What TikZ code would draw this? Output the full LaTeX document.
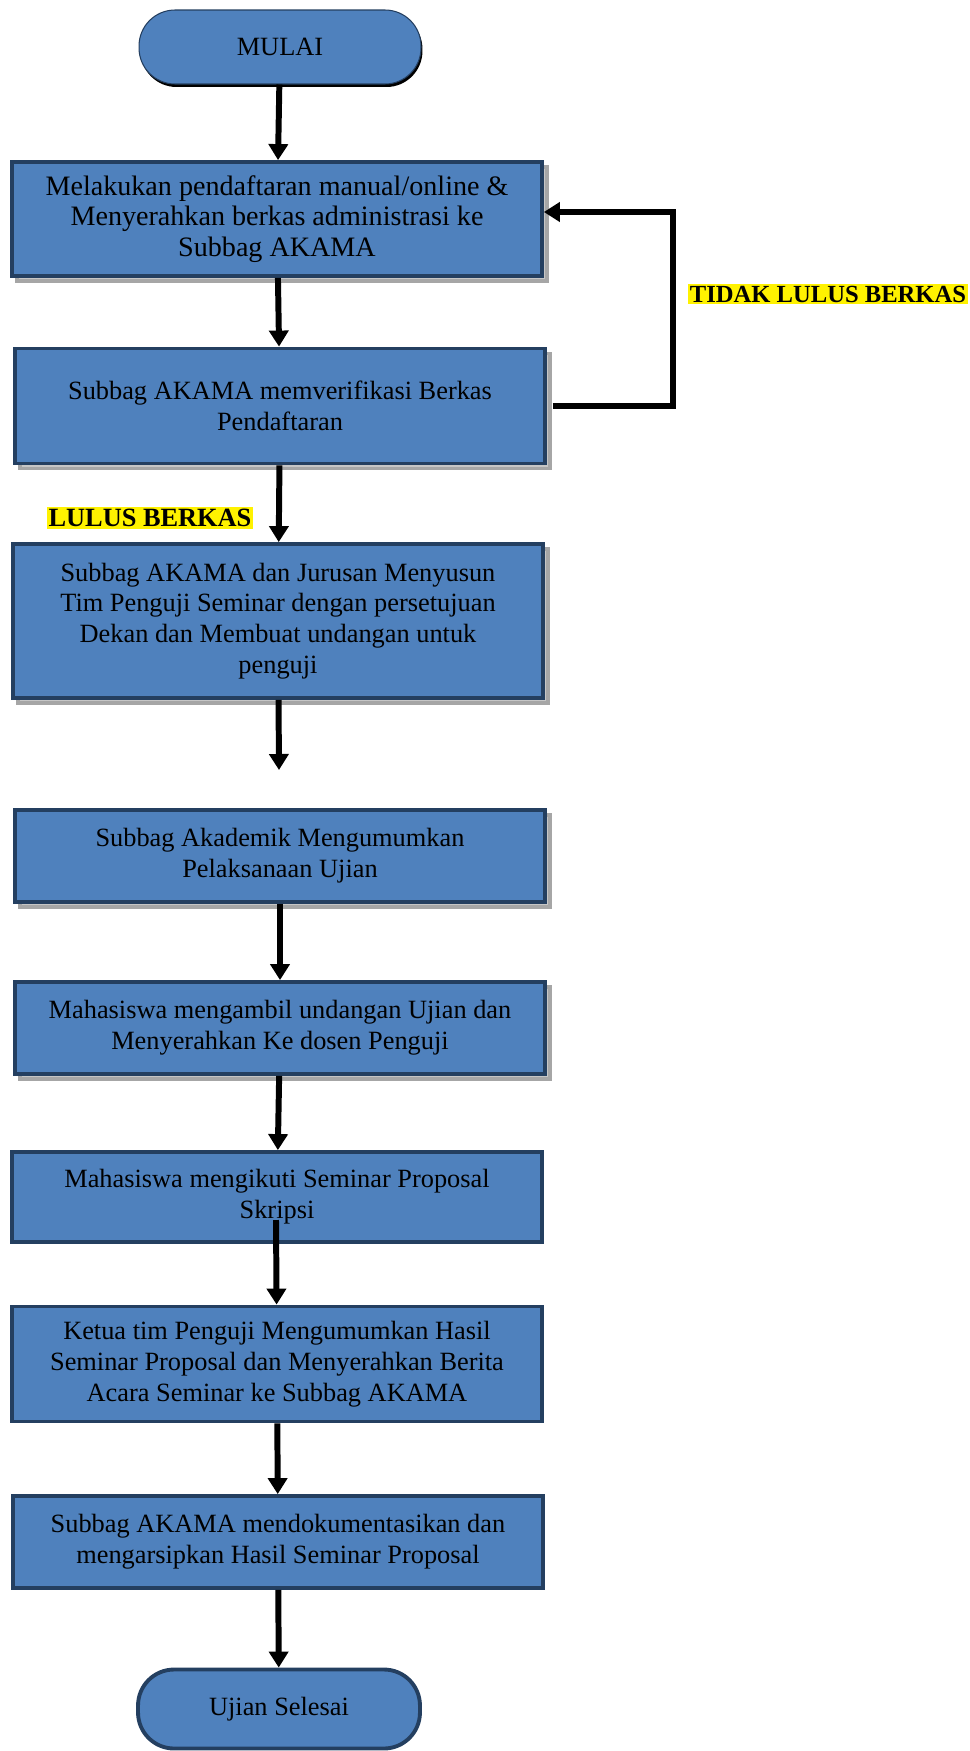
\documentclass[tikz,border=0pt]{standalone}
\usepackage{fontspec}
\setmainfont{Liberation Serif}
\usetikzlibrary{arrows.meta,shadows}

\definecolor{boxblue}{HTML}{4F81BD}
\definecolor{boxline}{HTML}{243F60}

\begin{document}
\begin{tikzpicture}[x=0.02cm,y=-0.02cm,
    stepbox/.style={rectangle,fill=boxblue,draw=boxline,line width=2.2pt,align=center,
        minimum width=10.6cm,inner sep=2pt,font=\fontsize{15}{17.5}\selectfont},
    grayshadow/.style={drop shadow={shadow xshift=0.1cm,shadow yshift=-0.1cm,
        fill=gray!45,draw=gray!70,opacity=1}},
    terminal/.style={rectangle,rounded corners=0.72cm,fill=boxblue,align=center,
        minimum width=5.64cm,minimum height=1.48cm,font=\fontsize{15}{17.5}\selectfont},
    flow/.style={line width=3.4pt,-{Triangle[length=0.32cm,width=0.38cm]}},
    hilite/.style={fill=yellow,inner sep=1pt,font=\bfseries\fontsize{15}{17}\selectfont}]
    \useasboundingbox (0,0) rectangle (970,1751);

    % start and end
    \node[terminal,draw=boxline,line width=0.6pt,
        drop shadow={shadow xshift=0.03cm,shadow yshift=-0.06cm,fill=black,opacity=1}]
        (mulai) at (280,47) {MULAI};
    \node[terminal,draw=boxline,line width=2.2pt,minimum height=1.58cm] (selesai) at (279,1709) {Ujian Selesai};

    % steps
    \node[stepbox,grayshadow,minimum height=2.28cm,font=\fontsize{16}{17.5}\selectfont] (b1) at (277,219)
        {Melakukan pendaftaran manual/online \&\\ Menyerahkan berkas administrasi ke\\ Subbag AKAMA};
    \node[stepbox,grayshadow,minimum height=2.3cm] (b2) at (280,406)
        {Subbag AKAMA memverifikasi Berkas\\ Pendaftaran};
    \node[stepbox,grayshadow,minimum height=3.08cm] (b3) at (278,621)
        {Subbag AKAMA dan Jurusan Menyusun\\ Tim Penguji Seminar dengan persetujuan\\ Dekan dan Membuat undangan untuk\\ penguji};
    \node[stepbox,grayshadow,minimum height=1.84cm] (b4) at (280,856)
        {Subbag Akademik Mengumumkan\\ Pelaksanaan Ujian};
    \node[stepbox,grayshadow,minimum height=1.84cm] (b5) at (280,1028)
        {Mahasiswa mengambil undangan Ujian dan\\ Menyerahkan Ke dosen Penguji};
    \node[stepbox,minimum height=1.8cm] (b6) at (277,1197)
        {Mahasiswa mengikuti Seminar Proposal\\ Skripsi};
    \node[stepbox,minimum height=2.3cm] (b7) at (277,1364)
        {Ketua tim Penguji Mengumumkan Hasil\\ Seminar Proposal dan Menyerahkan Berita\\ Acara Seminar ke Subbag AKAMA};
    \node[stepbox,minimum height=1.84cm] (b8) at (278,1542)
        {Subbag AKAMA mendokumentasikan dan\\ mengarsipkan Hasil Seminar Proposal};

    % labels
    \node[hilite,font=\bfseries\fontsize{14}{17}\selectfont] (tidak) at (828,294) {TIDAK LULUS BERKAS};
    \node[hilite] (lulus) at (150,518) {LULUS BERKAS};

    % connectors
    \coordinate (gap) at (279,770);
    \coordinate (s7) at (276,1220);
    \draw[flow] (mulai) -- (b1);
    \draw[flow] (b1) -- (b2);
    \draw[flow] ([xshift=0.12cm]b2.east) -- (673,406) |- ([yshift=0.14cm]b1.east);
    \draw[flow] (b2) -- (b3);
    \draw[flow] (b3) -- (gap);
    \draw[flow] (b4) -- (b5);
    \draw[flow] (b5) -- (b6);
    \draw[flow] (s7) -- (b7);
    \draw[flow] (b7) -- (b8);
    \draw[flow] (b8) -- (selesai);
\end{tikzpicture}
\end{document}
